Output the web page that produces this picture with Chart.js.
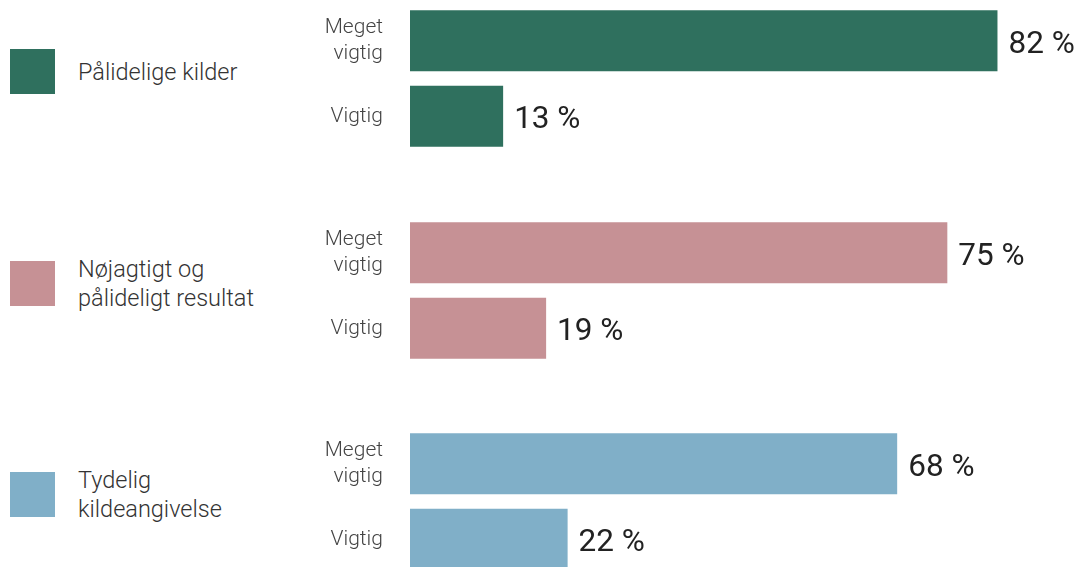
<!DOCTYPE html>
<html>
<head>
<meta charset="utf-8">
<script src="https://cdn.jsdelivr.net/npm/chart.js@4/dist/chart.umd.min.js"></script>
<style>
  html, body { margin: 0; padding: 0; background: #fff; }
  body { width: 1077px; height: 567px; position: relative; overflow: hidden; font-family: Roboto, sans-serif; }
  .row { position: absolute; left: 0; width: 1077px; height: 151px; }
  .swatch { position: absolute; left: 10px; top: 46px; width: 45px; height: 45px; }
  .label { position: absolute; left: 78px; top: 69px; transform: translateY(-50%); font-size: 23.5px; font-weight: 300; color: #333; line-height: 29px; }
  .chart { position: absolute; left: 290px; top: 0; width: 787px; height: 151px; }
</style>
</head>
<body>
<script>
const groups = [['Pålidelige kilder'], ['Nøjagtigt og', 'pålideligt resultat'], ['Tydelig', 'kildeangivelse']];
const levels = [['Meget', 'vigtig'], 'Vigtig'];
const megetVigtig = [82, 75, 68];
const vigtig = [13, 19, 22];
const colors = ['#2F705E', '#C69195', '#80AFC8'];

// writes "82 %" just right of each bar
const valueLabels = {
  id: 'valueLabels',
  afterDatasetsDraw(chart) {
    const ctx = chart.ctx;
    const meta = chart.getDatasetMeta(0);
    ctx.save();
    ctx.font = '400 31.5px Roboto';
    ctx.fillStyle = '#222';
    ctx.textBaseline = 'middle';
    meta.data.forEach((bar, i) => {
      ctx.fillText(chart.data.datasets[0].data[i] + ' %', bar.x + 11, bar.y + 4);
    });
    ctx.restore();
  }
};

groups.forEach((g, i) => {
  const row = document.createElement('div');
  row.className = 'row';
  row.style.top = (3 + i * 211.5) + 'px';
  row.innerHTML = '<div class="swatch" style="background:' + colors[i] + '"></div>' +
    '<div class="label">' + g.join('<br>') + '</div>' +
    '<div class="chart"><canvas></canvas></div>';
  document.body.appendChild(row);

  new Chart(row.querySelector('canvas'), {
    type: 'bar',
    data: {
      labels: levels,
      datasets: [{
        data: [megetVigtig[i], vigtig[i]],
        backgroundColor: colors[i],
        borderWidth: 0,
        barPercentage: 0.81,
        categoryPercentage: 1
      }]
    },
    options: {
      indexAxis: 'y',
      animation: false,
      maintainAspectRatio: false,
      responsive: true,
      layout: { padding: 0 },
      plugins: { legend: { display: false }, tooltip: { enabled: false } },
      scales: {
        x: { display: false, min: 0, max: 93.1 },
        y: {
          grid: { display: false, drawTicks: false },
          border: { display: false },
          afterFit(scale) {
            scale.width = 120;
            scale.paddingTop = 0;
            scale.paddingBottom = 0;
          },
          ticks: {
            padding: 27,
            color: '#444',
            font: { family: 'Roboto', size: 21, weight: '300', lineHeight: 1.25 }
          }
        }
      }
    },
    plugins: [valueLabels]
  });
});
</script>
</body>
</html>
